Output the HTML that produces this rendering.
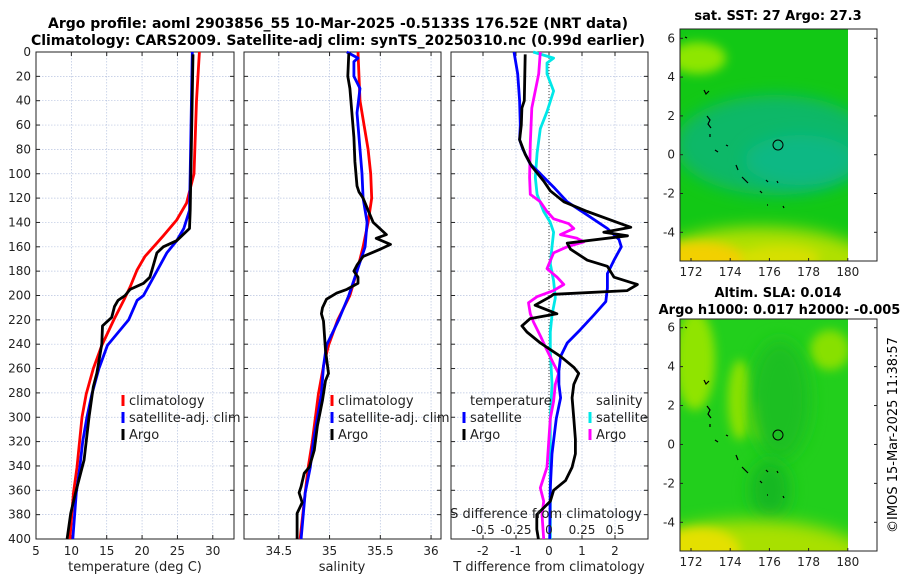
<!DOCTYPE html>
<html><head><meta charset="utf-8"><style>
html,body{margin:0;padding:0;background:#fff}
svg{display:block;font-family:"DejaVu Sans","Liberation Sans",sans-serif}
</style></head><body>
<svg id="fig" width="900" height="580" viewBox="0 0 900 580">
<defs>
<filter id="blur8" x="-50%" y="-50%" width="200%" height="200%"><feGaussianBlur stdDeviation="8"/></filter>
<filter id="blur5" x="-50%" y="-50%" width="200%" height="200%"><feGaussianBlur stdDeviation="5"/></filter>
<clipPath id="m1clip"><rect x="680" y="29" width="168" height="232"/></clipPath>
<clipPath id="m2clip"><rect x="680" y="319" width="168" height="232"/></clipPath>
</defs>
<text x="338" y="28" text-anchor="middle" font-size="14" font-weight="bold">Argo profile: aoml 2903856_55 10-Mar-2025 -0.5133S 176.52E (NRT data)</text>
<text x="338" y="45" text-anchor="middle" font-size="14" font-weight="bold">Climatology: CARS2009. Satellite-adj clim: synTS_20250310.nc (0.99d earlier)</text>
<g id="p1"></g>
<g id="p2"></g>
<g id="p3"></g>

<g>
<text x="778" y="20" text-anchor="middle" font-size="13" font-weight="bold">sat. SST: 27 Argo: 27.3</text>
<g clip-path="url(#m1clip)">
<rect x="680" y="29" width="168" height="232" fill="#12c815"/>
<ellipse cx="698" cy="58" rx="28" ry="16" fill="#8ee600" filter="url(#blur5)"/>
<ellipse cx="775" cy="145" rx="100" ry="50" fill="#10b868" filter="url(#blur8)"/>
<ellipse cx="800" cy="160" rx="55" ry="25" fill="#0cb884" filter="url(#blur8)"/>
<ellipse cx="760" cy="272" rx="120" ry="45" fill="#b0e000" filter="url(#blur8)"/>
<ellipse cx="700" cy="264" rx="50" ry="22" fill="#f2d000" filter="url(#blur5)"/>
<ellipse cx="780" cy="258" rx="40" ry="12" fill="#d6e000" filter="url(#blur5)"/>
</g>
<rect x="680" y="29" width="197" height="232" fill="none" stroke="#222" stroke-width="1"/>
<circle cx="778" cy="145" r="5" fill="none" stroke="#000" stroke-width="1"/>
<g id="coast1" fill="none" stroke="#000" stroke-width="1.2"></g>
<g id="m1ticks"></g>
</g>

<g>
<text x="778" y="297" text-anchor="middle" font-size="13" font-weight="bold">Altim. SLA: 0.014</text>
<text x="682" y="314" font-size="13" font-weight="bold" text-anchor="middle" transform="translate(102,0)">Argo h1000: 0.017 h2000: -0.0051</text>
<g clip-path="url(#m2clip)">
<rect x="680" y="319" width="168" height="232" fill="#22cf1c"/>
<ellipse cx="695" cy="360" rx="20" ry="50" fill="#90e400" filter="url(#blur5)"/>
<ellipse cx="740" cy="400" rx="12" ry="40" fill="#8ee200" filter="url(#blur5)"/>
<ellipse cx="830" cy="350" rx="20" ry="20" fill="#88e000" filter="url(#blur5)"/>
<ellipse cx="760" cy="420" rx="10" ry="20" fill="#80e000" filter="url(#blur5)"/>
<ellipse cx="780" cy="400" rx="30" ry="60" fill="#1cbf20" filter="url(#blur8)"/>
<ellipse cx="770" cy="490" rx="20" ry="30" fill="#18b822" filter="url(#blur8)"/>
<ellipse cx="750" cy="560" rx="120" ry="40" fill="#a8e000" filter="url(#blur8)"/>
<ellipse cx="700" cy="550" rx="40" ry="22" fill="#e4e000" filter="url(#blur5)"/>
</g>
<rect x="680" y="319" width="197" height="232" fill="none" stroke="#222" stroke-width="1"/>
<circle cx="778" cy="435" r="5" fill="none" stroke="#000" stroke-width="1"/>
<g id="coast2" fill="none" stroke="#000" stroke-width="1.2"></g>
<g id="m2ticks"></g>
</g>
<text x="0" y="0" font-size="13" text-anchor="middle" transform="translate(897,435) rotate(-90)">©IMOS 15-Mar-2025 11:38:57</text>
</svg>
<script>
const depthTicks = [0,20,40,60,80,100,120,140,160,180,200,220,240,260,280,300,320,340,360,380,400];
const tempTicks = [5,10,15,20,25,30];
const salTicks = [34.5,35,35.5,36];
const tdiffTicks = [-2,-1,0,1,2];
const tdiffLabels = ["-2","-1","0","1","2"];
const sdiffTicks = [-0.5,-0.25,0,0.25,0.5];
const sdiffLabels = ["-0.5","-0.25","0","0.25","0.5"];

const climTempDepth = [0,40,100,124,138,151,157,168,179,193,204,220,241,260,281,300,341,362,400];
const climTemp = [28.1,27.7,27.35,26.3,24.9,23,22.1,20.4,19.3,18.3,17.4,16,14.3,13.1,12.1,11.5,10.8,10.3,9.8];
const satTempDepth = [0,100,130,145,155,165,180,200,204,220,241,260,281,300,320,341,362,400];
const satTemp = [27.1,26.8,26.7,25.9,24.9,23.5,22.1,20.2,19.3,18.1,15.1,13.9,12.9,12.2,11.6,11.2,10.7,10.2];
const argoTempDepth = [2,130,145,150,155,160,165,175,185,190,195,200,204,209,218,225,240,264,275,300,335,362,379,400];
const argoTemp = [27.2,26.8,26.7,25.8,24.9,23,22.1,21.6,21.1,20.2,18.3,17.6,16.6,16.1,15.7,14.4,14.3,13.6,13.1,12.5,11.8,10.6,9.9,9.4];

const climSalDepth = [0,40,80,100,120,140,160,180,200,220,241,258,281,300,320,341,362,400];
const climSal = [35.28,35.3,35.38,35.405,35.415,35.38,35.33,35.27,35.2,35.08,34.99,34.94,34.89,34.86,34.83,34.79,34.76,34.71];
const satSalDepth = [0,5,8,20,30,50,60,80,100,120,140,160,180,200,220,241,258,281,300,320,341,362,400];
const satSal = [35.17,35.28,35.24,35.24,35.3,35.27,35.28,35.3,35.32,35.33,35.37,35.35,35.27,35.19,35.09,34.97,34.94,34.92,34.88,34.84,34.81,34.76,34.72];
const argoSalDepth = [1,20,30,50,70,90,110,115,120,130,140,150,153,158,162,168,175,180,185,190,195,198,203,210,215,221,245,264,270,286,307,327,341,346,357,362,370,379,400];
const argoSal = [35.19,35.18,35.2,35.22,35.24,35.25,35.27,35.29,35.33,35.38,35.43,35.56,35.46,35.6,35.5,35.33,35.27,35.24,35.28,35.28,35.17,35.07,34.97,34.93,34.92,34.94,34.96,34.99,34.96,34.93,34.88,34.85,34.8,34.75,34.72,34.7,34.73,34.68,34.68];

const satTdiffDepth = [0,18,40,60,72,80,92,100,111,123,134,145,154,160,171,182,194,205,216,228,239,250,262,273,284,301,330,358,400];
const satTdiff = [-1.06,-0.95,-0.89,-0.87,-0.89,-0.79,-0.57,-0.26,0.14,0.55,1.16,1.77,2.12,2.19,1.97,1.77,1.77,1.72,1.36,0.95,0.55,0.35,0.3,0.3,0.35,0.22,0.09,0.04,0.02];
const argoTdiffDepth = [2,40,46,60,72,84,94,106,114,123,131,140,144,148,151,157,162,171,176,185,191,196,199,201,208,215,219,225,230,239,250,259,264,273,284,301,318,330,341,352,360,369,380,392,400];
const argoTdiff = [-0.72,-0.75,-0.82,-0.84,-0.89,-0.72,-0.52,-0.16,0.04,0.45,1.16,2.07,2.48,1.66,2.38,0.55,0.65,1.16,1.77,1.97,2.68,2.37,0.14,0.04,-0.42,0.24,-0.57,-0.82,-0.67,-0.26,0.35,0.75,0.9,0.75,0.7,0.75,0.8,0.8,0.7,0.5,0.14,0.04,-0.37,-0.37,-0.32];
const satSdiffDepth = [0,5,9,18,32,49,63,83,103,117,131,140,148,160,174,188,202,216,230,245,273,301,400];
const satSdiff = [-0.12,0.035,-0.015,-0.015,0.035,-0.015,-0.066,-0.09,-0.104,-0.09,-0.04,0.01,0.035,0.023,0.01,0.035,0.048,0.023,0.01,0.01,0.023,0.01,0.01];
const argoSdiffDepth = [0,18,46,75,103,117,123,131,137,141,145,150,153,156,160,165,178,185,191,196,201,206,215,222,233,245,256,264,273,287,301,341,358,369,380,400];
const argoSdiff = [-0.066,-0.078,-0.13,-0.142,-0.147,-0.142,-0.066,-0.015,0.035,0.15,0.188,0.086,0.213,0.264,0.137,0.035,-0.015,0.061,0.112,0.035,-0.091,-0.155,-0.142,-0.117,-0.066,-0.015,0.035,0.073,0.048,0.035,0.01,-0.015,-0.066,-0.04,-0.053,-0.04];

const mapLonTicks = [172,174,176,178,180];
const mapLatTicks = [6,4,2,0,-2,-4];

const NS = "http://www.w3.org/2000/svg";
function mk(tag, attrs, parent){ const e=document.createElementNS(NS,tag); for(const k in attrs) e.setAttribute(k,attrs[k]); parent.appendChild(e); return e; }
const Y0=52, Y1=539;
const yScale = d => Y0 + (d/400)*(Y1-Y0);

function panel(g, x0, x1, xmin, xmax, xticks, xlabels, showY){
  const xs = v => x0 + (v-xmin)/(xmax-xmin)*(x1-x0);
  depthTicks.forEach(d=>{
    const y=yScale(d);
    const gl=mk('line',{x1:x0,x2:x1,y1:y,y2:y,stroke:'#b8c4e0','stroke-width':0.7,'stroke-dasharray':'1.5,1.5'},g);
    
    
    mk('line',{x1:x0,x2:x0+4,y1:y,y2:y,stroke:'#222'},g);
    mk('line',{x1:x1-4,x2:x1,y1:y,y2:y,stroke:'#222'},g);
    if(showY){
      const t=mk('text',{x:x0-5,y:y+4,'text-anchor':'end','font-size':12,fill:'#222'},g);
      t.textContent=d;
      
      
    }
  });
  xticks.forEach((v,i)=>{
    const x=xs(v);
    const gl=mk('line',{x1:x,x2:x,y1:Y0,y2:Y1,stroke:'#b8c4e0','stroke-width':0.7,'stroke-dasharray':'1.5,1.5'},g);
    
    
    mk('line',{x1:x,x2:x,y1:Y1,y2:Y1-4,stroke:'#222'},g);
    mk('line',{x1:x,x2:x,y1:Y0,y2:Y0+4,stroke:'#222'},g);
    const t=mk('text',{x:x,y:Y1+16,'text-anchor':'middle','font-size':12,fill:'#222'},g);
    t.textContent=xlabels[i];
    
    
  });
  mk('rect',{x:x0,y:Y0,width:x1-x0,height:Y1-Y0,fill:'none',stroke:'#222','stroke-width':1},g);
  return xs;
}
function line(g, xs, vals, depths, color, name, scale){
  const pts = vals.map((v,i)=> xs(v*(scale||1)).toFixed(1)+','+yScale(depths[i]).toFixed(1)).join(' ');
  const p=mk('polyline',{points:pts,fill:'none',stroke:color,'stroke-width':2.8,'stroke-linejoin':'round'},g);
  
  
}
function legendItem(g,x,y,color,label,name){
  mk('rect',{x:x-1.5,y:y-10,width:3,height:11,fill:color},g);
  const t=mk('text',{x:x+6,y:y,'font-size':13,fill:'#222'},g);
  t.textContent=label;
  
  
}

const g1=document.getElementById('p1');
const xs1=panel(g1,36,234,5,33,tempTicks,tempTicks.map(String),true);
line(g1,xs1,climTemp,climTempDepth,'#f00','climatology-temp-line');
line(g1,xs1,satTemp,satTempDepth,'#00f','satellite-temp-line');
line(g1,xs1,argoTemp,argoTempDepth,'#000','argo-temp-line');
legendItem(g1,123,405,'#f00','climatology','legend-climatology');
legendItem(g1,123,422,'#00f','satellite-adj. clim','legend-satellite');
legendItem(g1,123,439,'#000','Argo','legend-argo');
const xl1=mk('text',{x:135,y:571,'text-anchor':'middle','font-size':13,fill:'#222'},g1);
xl1.textContent='temperature (deg C)';



const g2=document.getElementById('p2');
const xs2=panel(g2,244,441,34.157,36.098,salTicks,salTicks.map(String),false);
line(g2,xs2,climSal,climSalDepth,'#f00','climatology-salinity-line');
line(g2,xs2,satSal,satSalDepth,'#00f','satellite-salinity-line');
line(g2,xs2,argoSal,argoSalDepth,'#000','argo-salinity-line');
legendItem(g2,332,405,'#f00','climatology','legend-climatology');
legendItem(g2,332,422,'#00f','satellite-adj. clim','legend-satellite');
legendItem(g2,332,439,'#000','Argo','legend-argo');
const xl2=mk('text',{x:342,y:571,'text-anchor':'middle','font-size':13,fill:'#222'},g2);
xl2.textContent='salinity';



const g3=document.getElementById('p3');
const xs3=panel(g3,451,648,-2.97,3.0,tdiffTicks,tdiffLabels,false);
mk('line',{x1:xs3(0),x2:xs3(0),y1:Y0,y2:Y1,stroke:'#444','stroke-width':1,'stroke-dasharray':'1,2'},g3);
line(g3,xs3,satSdiff,satSdiffDepth,'#00e8e8','satellite-salinity-diff-line',4);
line(g3,xs3,argoSdiff,argoSdiffDepth,'#f0f','argo-salinity-diff-line',4);
line(g3,xs3,satTdiff,satTdiffDepth,'#00f','satellite-temp-diff-line');
line(g3,xs3,argoTdiff,argoTdiffDepth,'#000','argo-temp-diff-line');
const lt=mk('text',{x:470,y:405,'font-size':13,fill:'#222'},g3); lt.textContent='temperature';


const ls=mk('text',{x:596,y:405,'font-size':13,fill:'#222'},g3); ls.textContent='salinity';


legendItem(g3,464,422,'#00f','satellite','legend-temp-satellite');
legendItem(g3,464,439,'#000','Argo','legend-temp-argo');
legendItem(g3,590,422,'#00e8e8','satellite','legend-sal-satellite');
legendItem(g3,590,439,'#f0f','Argo','legend-sal-argo');
const st=mk('text',{x:546,y:518,'text-anchor':'middle','font-size':13,fill:'#222'},g3); st.textContent='S difference from climatology';


sdiffTicks.forEach((v,i)=>{
  const t=mk('text',{x:xs3(v*4),y:534,'text-anchor':'middle','font-size':12,fill:'#222'},g3);
  t.textContent=sdiffLabels[i];
  
  
});
const tt=mk('text',{x:549,y:571,'text-anchor':'middle','font-size':13,fill:'#222'},g3); tt.textContent='T difference from climatology';



function mapTicks(gid, top, bottom, lat6y, latm4y){
  const g=document.getElementById(gid);
  const lx = lon => 691 + (lon-172)*19.6;
  const ly = lat => lat6y + (6-lat)*(latm4y-lat6y)/10;
  mapLatTicks.forEach(l=>{
    const y=ly(l);
    mk('line',{x1:680,x2:683,y1:y,y2:y,stroke:'#222'},g);
    mk('line',{x1:874,x2:877,y1:y,y2:y,stroke:'#222'},g);
    const t=mk('text',{x:675,y:y+4,'text-anchor':'end','font-size':12,fill:'#222'},g);
    t.textContent=l;
    
    
  });
  mapLonTicks.forEach(l=>{
    const x=lx(l);
    mk('line',{x1:x,x2:x,y1:bottom,y2:bottom-3,stroke:'#222'},g);
    const t=mk('text',{x:x,y:bottom+15,'text-anchor':'middle','font-size':12,fill:'#222'},g);
    t.textContent=l;
    
    
  });
}
mapTicks('m1ticks',29,261,38.3,232.3);
mapTicks('m2ticks',319,551,327.7,522.3);

function coast(gid, dy){
  const g=document.getElementById(gid);
  const segs=["685,37 687,38","704,90 706,94 709,91","707,116 710,120 708,124 711,128","710,134 710,137","715,150 718,152","726,145 728,146","736,165 738,170","742,177 748,183","766,180 768,182","777,181 778,183","760,191 762,193","767,205 768,205","783,206 784,208"];
  segs.forEach(s=>{
    const p=mk('polyline',{points:s.split(' ').map(q=>{const [a,b]=q.split(',');return a+','+(+b+dy);}).join(' ')},g);
    
    
  });
}
coast('coast1',0);
coast('coast2',290);
</script>
</body></html>
